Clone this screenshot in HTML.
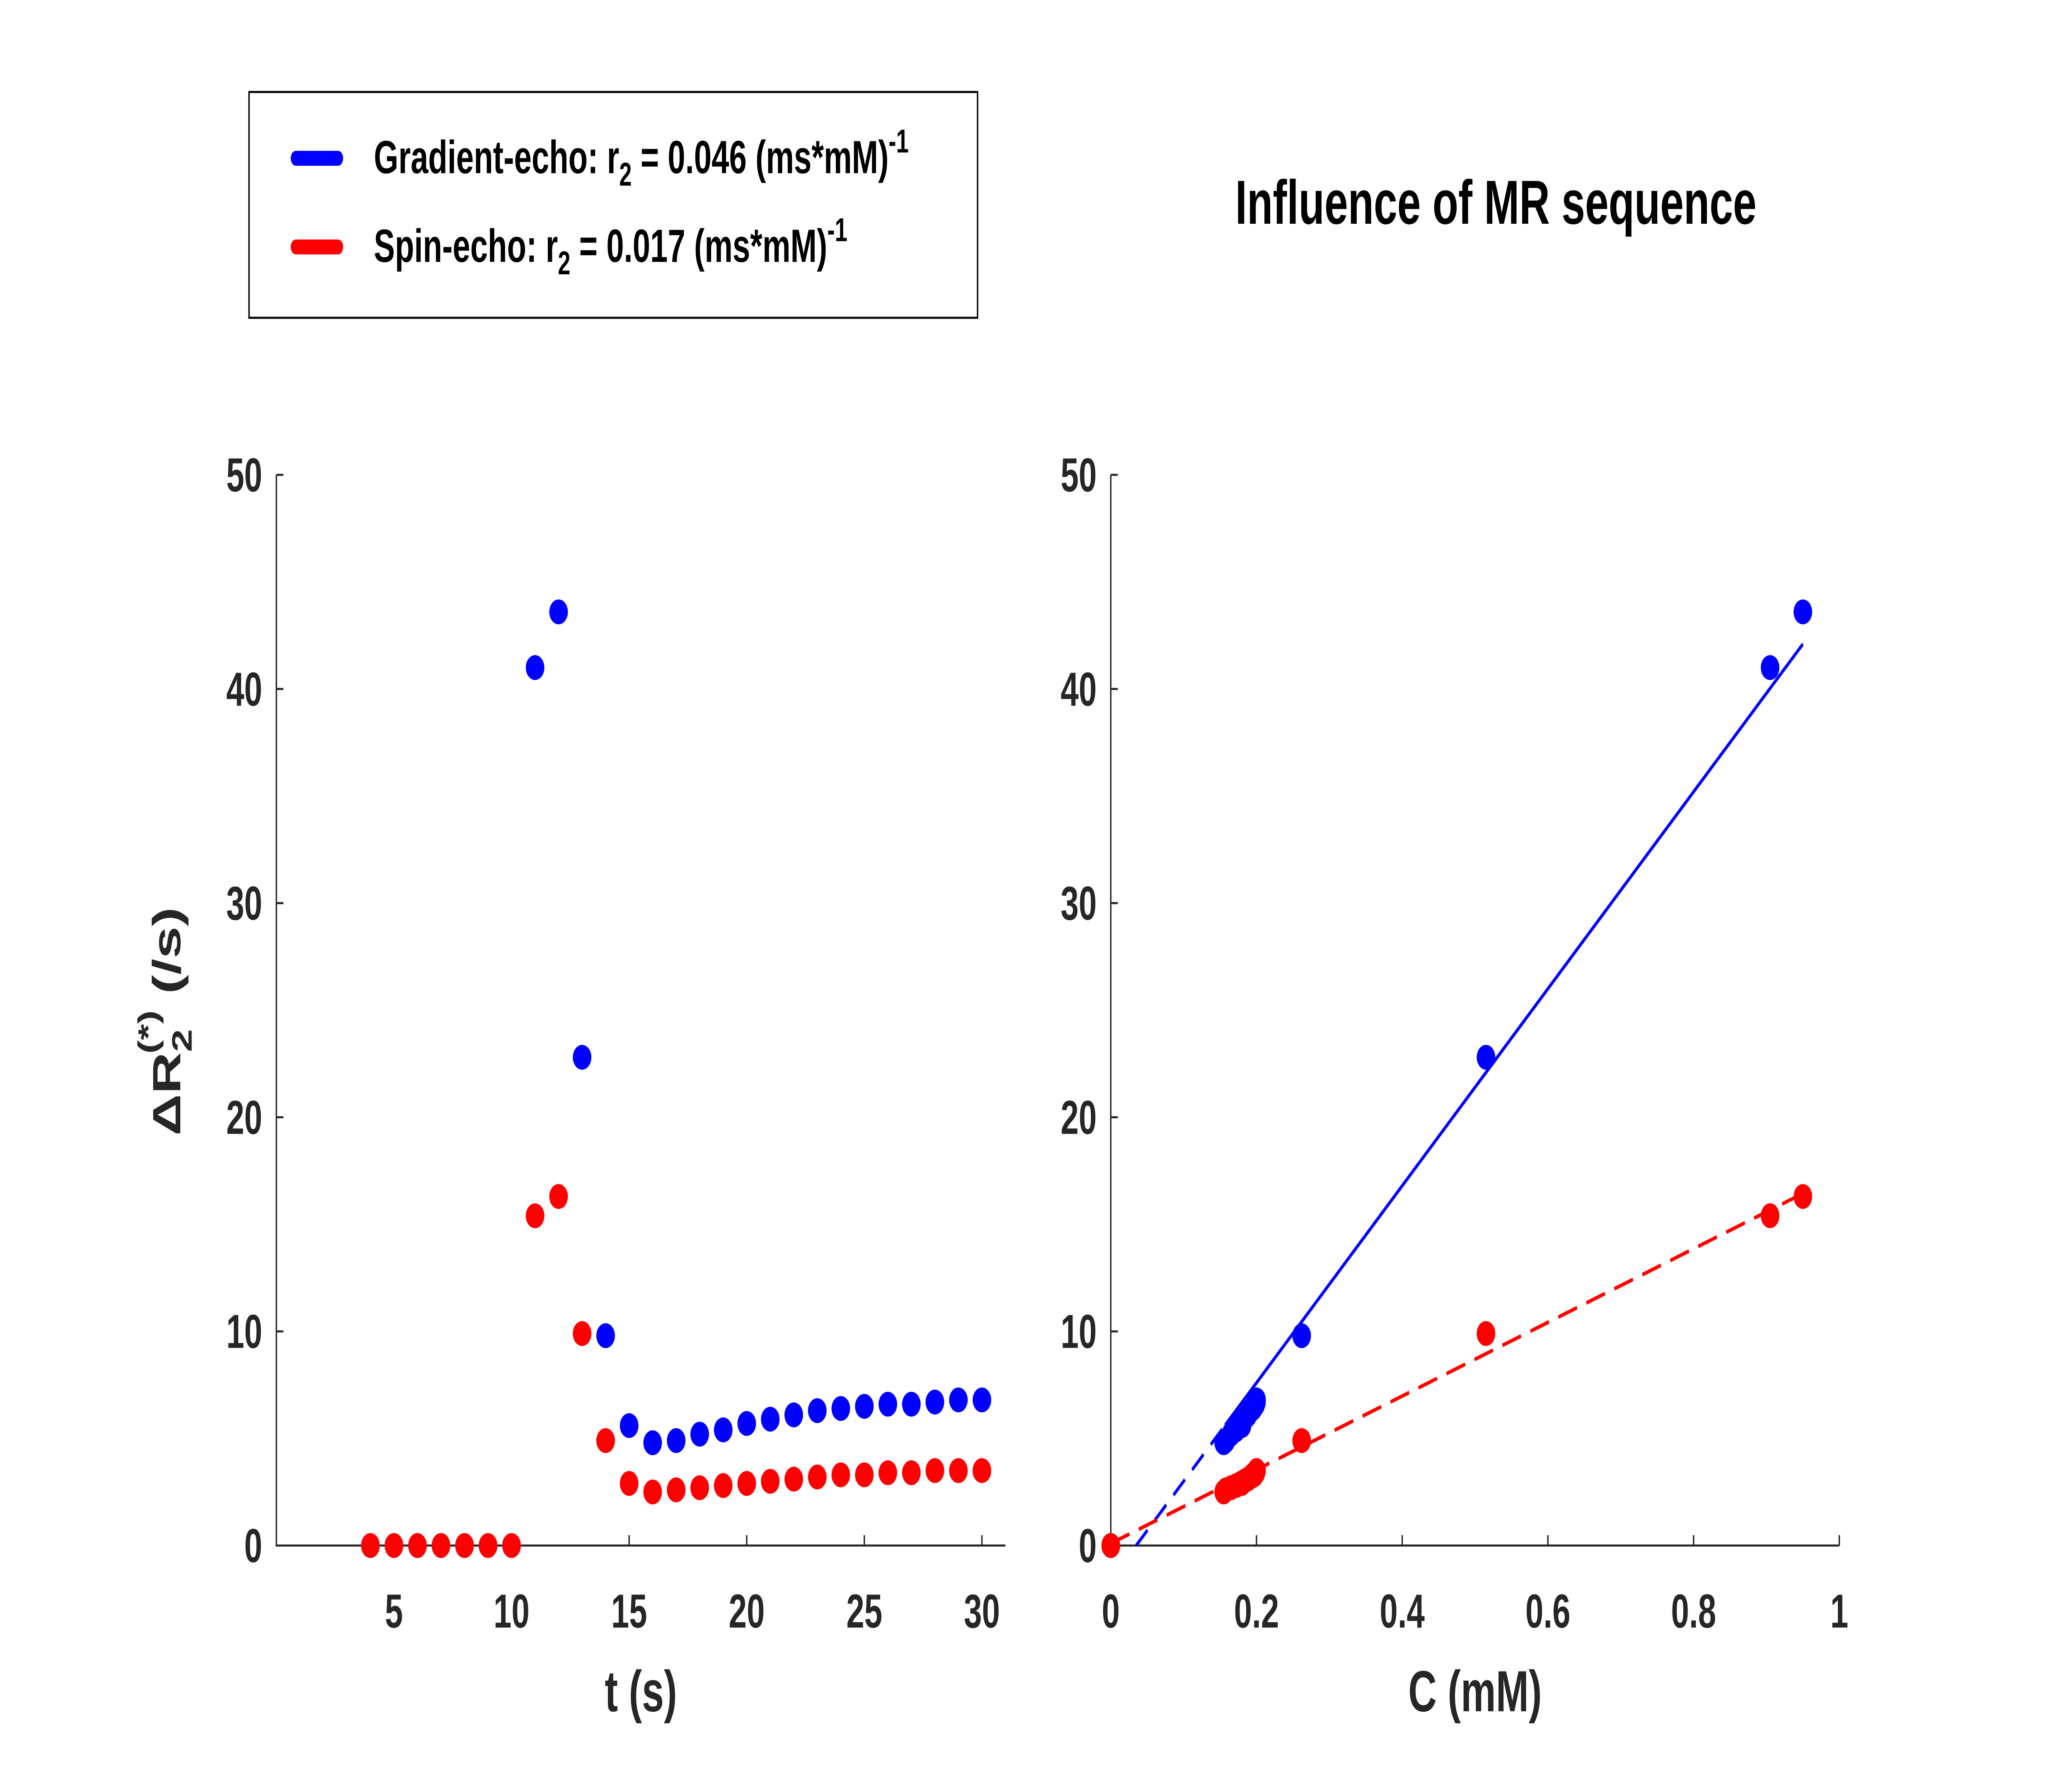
<!DOCTYPE html>
<html><head><meta charset="utf-8"><style>
html,body{margin:0;padding:0;background:#fff;width:100%;height:100%;overflow:hidden;}
svg{display:block;width:100vw;height:100vh;font-family:"Liberation Sans",sans-serif;font-weight:bold;}
</style></head><body>
<svg id="chart" viewBox="0 0 7355 4320" preserveAspectRatio="none" xmlns="http://www.w3.org/2000/svg">
<rect width="7355" height="4320" fill="#fff"/>
<g>
<rect x="884" y="222" width="2586" height="545" fill="#fff" stroke="#000" stroke-width="5"/>
<line x1="1050" y1="382" x2="1200" y2="382" stroke="#0000ff" stroke-width="36" stroke-linecap="round"/>
<line x1="1050" y1="596" x2="1200" y2="596" stroke="#ff0000" stroke-width="36" stroke-linecap="round"/>
<text x="1327" y="418" font-size="112" fill="#000">Gradient-echo: r<tspan font-size="80" dy="30">2</tspan><tspan dy="-30"> = 0.046 (ms*mM)</tspan><tspan font-size="80" dy="-50">-1</tspan></text>
<text x="1327" y="632" font-size="112" fill="#000">Spin-echo: r<tspan font-size="80" dy="30">2</tspan><tspan dy="-30"> = 0.017 (ms*mM)</tspan><tspan font-size="80" dy="-50">-1</tspan></text>
</g>
<text x="5310" y="540" font-size="150" text-anchor="middle" fill="#000">Influence of MR sequence</text>
<g id="left"></g>
<g id="right"></g>
<text transform="translate(640,2465) rotate(-90)" font-size="140" text-anchor="middle" fill="#262626">ΔR<tspan font-size="100" dy="40">2</tspan><tspan font-size="100" dx="-60" dy="-120">(*)</tspan><tspan dy="80"> (/s)</tspan></text>
<text x="2275" y="4130" font-size="140" text-anchor="middle" fill="#262626">t (s)</text>
<text x="5236" y="4130" font-size="140" text-anchor="middle" fill="#262626">C (mM)</text>
</svg>
<script>
const tValues=[4,5,6,7,8,9,10,11,12,13,14,15,16,17,18,19,20,21,22,23,24,25,26,27,28,29,30];
const gradientR2=[0,0,0,0,0,0,0,41.0,43.6,22.8,9.8,5.6,4.8,4.9,5.2,5.4,5.7,5.9,6.1,6.3,6.4,6.5,6.6,6.6,6.7,6.8,6.8];
const spinR2=[0,0,0,0,0,0,0,15.4,16.3,9.9,4.9,2.9,2.5,2.6,2.7,2.8,2.9,3.0,3.1,3.2,3.3,3.3,3.4,3.4,3.5,3.5,3.5];
const concentration=[0,0,0,0,0,0,0,0.905,0.95,0.515,0.262,0.18,0.155,0.158,0.165,0.172,0.178,0.183,0.188,0.192,0.195,0.197,0.198,0.199,0.2,0.2,0.2];
const xTicksTime=[5,10,15,20,25,30];
const xTicksConc=[0,0.2,0.4,0.6,0.8,1];
const xTickLabelsConc=["0","0.2","0.4","0.6","0.8","1"];
const yTicks=[0,10,20,30,40,50];
const gradientFit=[46.0,-1.6];
const spinFit=[17.2,0.1];
const NS="http://www.w3.org/2000/svg";
function mk(p,tag,at){const e=document.createElementNS(NS,tag);for(const k in at)e.setAttribute(k,at[k]);p.appendChild(e);return e;}
const Y0=3730,Y1=1146;
function ys(v){return Y0+(v-0)/(50-0)*(Y1-Y0);}
function xsT(v){return 981+(v-0)/(31-0)*(3569-981);}
function xsC(v){return 3943+v*(6529-3943);}
function axes(g,x0,x1,xt,xl,xs){
  const a=mk(g,'path',{d:`M${x0},${Y1} L${x0},${Y0} L${x1},${Y0}`,fill:'none',stroke:'#262626','stroke-width':5});
  
  yTicks.forEach(v=>{mk(g,'line',{x1:x0,x2:x0+25,y1:ys(v),y2:ys(v),stroke:'#262626','stroke-width':5});
    const t=mk(g,'text',{x:x0-50,y:ys(v)+40,'font-size':115,'text-anchor':'end',fill:'#262626'});t.textContent=v;
    });
  xt.forEach((v,i)=>{mk(g,'line',{x1:xs(v),x2:xs(v),y1:Y0,y2:Y0-25,stroke:'#262626','stroke-width':5});
    const t=mk(g,'text',{x:xs(v),y:3928,'font-size':115,'text-anchor':'middle',fill:'#262626'});t.textContent=xl[i];
    });
}
const L=document.getElementById('left'),R=document.getElementById('right');
axes(L,981,3569,xTicksTime,xTicksTime.map(String),xsT);
axes(R,3943,6529,xTicksConc,xTickLabelsConc,xsC);
function fitLine(c0,c1,f,col,dash,name){
  const l=mk(R,'line',{x1:xsC(c0),y1:ys(f[0]*c0+f[1]),x2:xsC(c1),y2:ys(f[0]*c1+f[1]),stroke:col,'stroke-width':9});
  if(dash)l.setAttribute('stroke-dasharray',dash);
  
}
const gx0=-gradientFit[1]/gradientFit[0];
fitLine(gx0,0.157,gradientFit,'#0000ff','55 35','gradient-fit-extrapolated');
fitLine(0.157,0.95,gradientFit,'#0000ff',null,'gradient-fit-line');
fitLine(0,0.95,spinFit,'#ff0000','70 35','spin-fit-line');
function dots(g,xs,xv,yv,col,name){
  xv.forEach((x,i)=>{const c=mk(g,'ellipse',{cx:xs(x),cy:ys(yv[i]),rx:33,ry:30,fill:col});
    });
}
dots(L,xsT,tValues,gradientR2,'#0000ff','gradient-point');
dots(L,xsT,tValues,spinR2,'#ff0000','spin-point');
dots(R,xsC,concentration,gradientR2,'#0000ff','gradient-point');
dots(R,xsC,concentration,spinR2,'#ff0000','spin-point');
</script>
</body></html>
